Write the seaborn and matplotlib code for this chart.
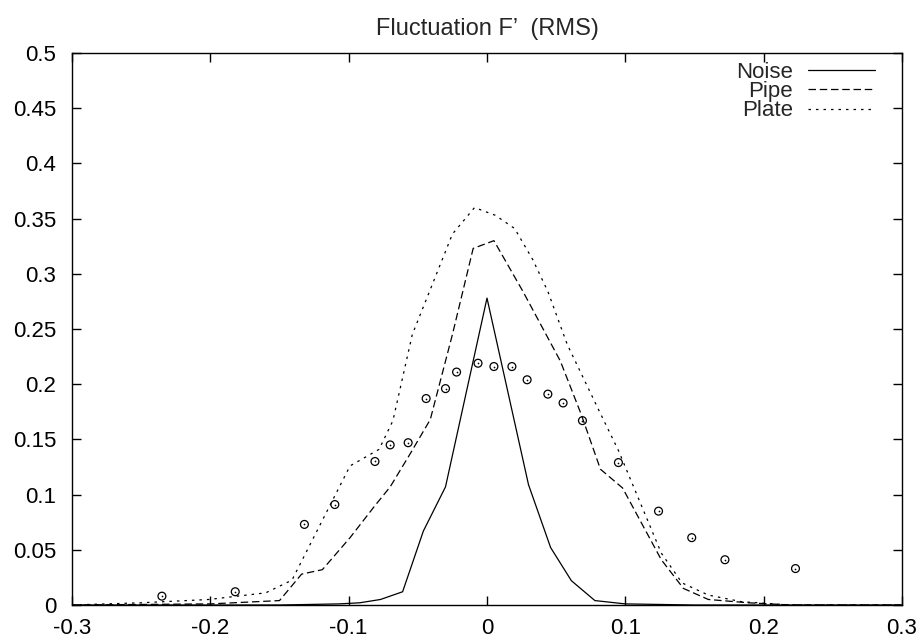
import matplotlib
matplotlib.use("Agg")
import matplotlib.pyplot as plt
import seaborn as sns
import numpy as np

# ---- data ----
noise_x = [-0.3, -0.15, -0.107, -0.092, -0.077, -0.061, -0.046, -0.030, 0.0,
           0.030, 0.046, 0.061, 0.078, 0.100, 0.15, 0.3]
noise_y = [0.0, 0.0, 0.001, 0.002, 0.005, 0.012, 0.067, 0.107, 0.278,
           0.109, 0.052, 0.022, 0.004, 0.001, 0.0, 0.0]

pipe_x = [-0.3, -0.2, -0.150, -0.134, -0.119, -0.099, -0.081, -0.070, -0.056,
          -0.041, -0.025, -0.010, 0.005, 0.026, 0.053, 0.068, 0.082, 0.098,
          0.126, 0.142, 0.160, 0.189, 0.22, 0.3]
pipe_y = [0.0, 0.001, 0.004, 0.028, 0.032, 0.061, 0.090, 0.107, 0.136,
          0.168, 0.245, 0.323, 0.330, 0.284, 0.221, 0.173, 0.123, 0.106,
          0.041, 0.015, 0.005, 0.002, 0.0, 0.0]

plate_x = [-0.3, -0.25, -0.201, -0.160, -0.141, -0.099, -0.078, -0.068, -0.054,
           -0.025, -0.009, 0.006, 0.020, 0.033, 0.044, 0.058, 0.081, 0.095,
           0.126, 0.141, 0.160, 0.184, 0.22, 0.3]
plate_y = [0.0, 0.002, 0.005, 0.011, 0.0225, 0.126, 0.141, 0.167, 0.245,
           0.336, 0.360, 0.353, 0.341, 0.313, 0.284, 0.236, 0.176, 0.140,
           0.047, 0.020, 0.009, 0.003, 0.0, 0.0]

exp_x = [-0.235, -0.182, -0.132, -0.110, -0.081, -0.070, -0.057, -0.044, -0.030,
         -0.022, -0.0065, 0.005, 0.018, 0.029, 0.044, 0.055, 0.069, 0.095,
         0.124, 0.148, 0.172, 0.223]
exp_y = [0.008, 0.012, 0.073, 0.091, 0.130, 0.145, 0.147, 0.187, 0.196,
         0.211, 0.219, 0.216, 0.216, 0.204, 0.191, 0.183, 0.167, 0.129,
         0.085, 0.061, 0.041, 0.033]

x_ticks = [-0.3, -0.2, -0.1, 0, 0.1, 0.2, 0.3]
x_labels = ["-0.3", "-0.2", "-0.1", "0", "0.1", "0.2", "0.3"]
y_ticks = [0, 0.05, 0.1, 0.15, 0.2, 0.25, 0.3, 0.35, 0.4, 0.45, 0.5]
y_labels = ["0", "0.05", "0.1", "0.15", "0.2", "0.25", "0.3", "0.35", "0.4", "0.45", "0.5"]
title = "Fluctuation F\u2019  (RMS)"

# ---- style ----
sns.set_style("ticks")
plt.rcParams["font.family"] = ["Liberation Sans", "DejaVu Sans"]
FS = 16
plt.rcParams["font.size"] = FS

W, H = 921, 644
L, R, T, B = 72, 902, 53, 605
fig = plt.figure(figsize=(W / 100, H / 100), dpi=100)
ax = fig.add_axes([L / W, 1 - B / H, (R - L) / W, (B - T) / H])

lw = 0.9
sns.lineplot(x=noise_x, y=noise_y, ax=ax, color="black", lw=lw,
             label="Noise", sort=False)
sns.lineplot(x=pipe_x, y=pipe_y, ax=ax, color="black", lw=lw,
             linestyle=(0, (6, 3)), label="Pipe", sort=False)
sns.lineplot(x=plate_x, y=plate_y, ax=ax, color="black", lw=lw,
             linestyle=(0, (2, 4)), label="Plate", sort=False)
sns.scatterplot(x=exp_x, y=exp_y, ax=ax, marker="o", s=32,
                facecolor="none", edgecolor="black", linewidth=0.9, zorder=5)
sns.scatterplot(x=exp_x, y=exp_y, ax=ax, marker="o", s=1.5,
                color="black", linewidth=0, zorder=6)

ax.set_xlim(-0.3, 0.3)
ax.set_ylim(0, 0.5)
ax.set_xticks(x_ticks)
ax.set_xticklabels(x_labels)
ax.set_yticks(y_ticks)
ax.set_yticklabels(y_labels)
ax.set_xlabel("")
ax.set_ylabel("")
ax.tick_params(axis="both", direction="in", length=6.5, width=1,
               top=True, right=True, labelsize=FS, colors="black")
ax.tick_params(axis="x", pad=9)
ax.tick_params(axis="y", pad=11.5)
for sp in ax.spines.values():
    sp.set_visible(True)
    sp.set_color("black")
    sp.set_linewidth(1)

ax.set_title(title, fontsize=17, pad=13)

handles, labels = ax.get_legend_handles_labels()
ax.legend(handles[:3], labels[:3], loc="upper right",
          bbox_to_anchor=(1 - 27 / (R - L), 1 - 9 / (B - T)),
          frameon=False, markerfirst=False, borderpad=0, borderaxespad=0,
          handlelength=3.0, handletextpad=0.68, labelspacing=-0.08, fontsize=FS)

fig.savefig("out.png", dpi=100)
